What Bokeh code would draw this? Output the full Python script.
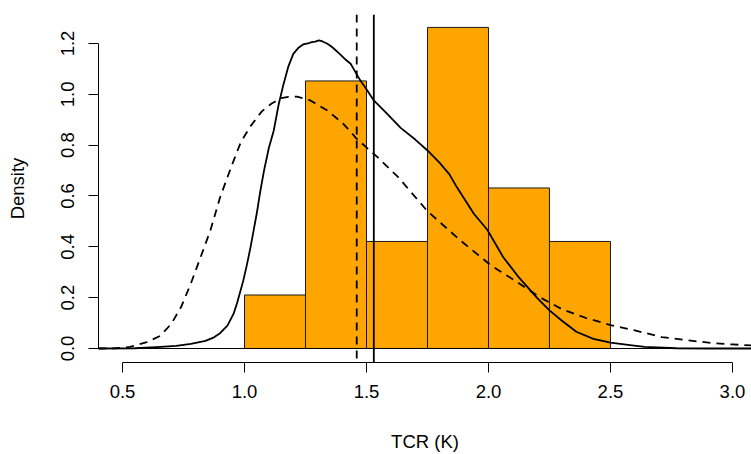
from bokeh.plotting import figure
from bokeh.models import Range1d, Span, FixedTicker, PrintfTickFormatter
from bokeh.embed import file_html
from bokeh.resources import INLINE

# Histogram of TCR estimates (density scale, bin width 0.25 K)
bin_left = [1.00, 1.25, 1.50, 1.75, 2.00, 2.25]
bin_right = [1.25, 1.50, 1.75, 2.00, 2.25, 2.50]
bin_density = [0.2105, 1.0526, 0.4211, 1.2632, 0.6316, 0.4211]

# Kernel density estimate of the sample (solid curve)
kde_x = [0.40, 0.55, 0.64, 0.72, 0.78, 0.84, 0.875, 0.90, 0.93, 0.955,
         0.97, 0.995, 1.01, 1.025, 1.05, 1.065, 1.08, 1.10, 1.12, 1.14,
         1.16, 1.18, 1.20, 1.22, 1.24, 1.26, 1.275, 1.29, 1.305, 1.32,
         1.34, 1.36, 1.39, 1.41, 1.435, 1.45, 1.475, 1.50, 1.53, 1.585,
         1.64, 1.70, 1.75, 1.80, 1.84, 1.87, 1.94, 1.995, 2.06, 2.12,
         2.20, 2.25, 2.30, 2.36, 2.43, 2.50, 2.58, 2.64, 2.77, 2.90, 3.08]
kde_y = [0.0, 0.001, 0.005, 0.010, 0.018, 0.030, 0.044, 0.060, 0.090, 0.136,
         0.180, 0.267, 0.330, 0.400, 0.530, 0.620, 0.700, 0.790, 0.858, 0.960,
         1.040, 1.110, 1.159, 1.182, 1.196, 1.200, 1.205, 1.207, 1.212, 1.208,
         1.199, 1.185, 1.159, 1.140, 1.120, 1.095, 1.054, 1.020, 0.976, 0.923,
         0.868, 0.822, 0.779, 0.730, 0.685, 0.635, 0.530, 0.467, 0.360, 0.285,
         0.198, 0.150, 0.110, 0.066, 0.038, 0.023, 0.013, 0.006, 0.001, 0.0, 0.0]

# Fitted reference distribution (dashed curve)
fit_x = [0.40, 0.47, 0.53, 0.60, 0.655, 0.70, 0.74, 0.78, 0.82, 0.86,
         0.90, 0.945, 0.985, 1.025, 1.07, 1.11, 1.15, 1.18, 1.215, 1.27,
         1.34, 1.405, 1.46, 1.545, 1.63, 1.75, 1.885, 2.01, 2.12, 2.21,
         2.30, 2.40, 2.50, 2.60, 2.71, 2.82, 2.91, 3.00, 3.08]
fit_y = [0.0, 0.001, 0.006, 0.025, 0.050, 0.097, 0.163, 0.255, 0.359, 0.464,
         0.595, 0.713, 0.812, 0.875, 0.932, 0.963, 0.985, 0.990, 0.991, 0.976,
         0.936, 0.884, 0.825, 0.753, 0.674, 0.540, 0.425, 0.327, 0.260, 0.202,
         0.155, 0.120, 0.092, 0.071, 0.045, 0.032, 0.022, 0.016, 0.012]

# Central estimates marked as vertical lines
fit_median = 1.46
sample_median = 1.53

x_ticks = [0.5, 1.0, 1.5, 2.0, 2.5, 3.0]
y_ticks = [0.0, 0.2, 0.4, 0.6, 0.8, 1.0, 1.2]

FONT = "Liberation Sans"
FS = "18.5px"

p = figure(width=751, height=454, output_backend="svg", toolbar_location=None,
           x_range=Range1d(0.4016, 3.078), y_range=Range1d(-0.0551, 1.314),
           min_border_left=98, min_border_right=0, min_border_top=14,
           min_border_bottom=92, background_fill_color="white",
           border_fill_color="white", outline_line_color=None)
p.grid.visible = False

p.quad(left=bin_left, right=bin_right, bottom=0, top=bin_density,
       fill_color="#FFA500", line_color="#1a1a1a", line_width=1)

p.add_layout(Span(location=0, dimension="width", line_color="black", line_width=1))

p.line(kde_x, kde_y, line_color="black", line_width=1.8, line_join="round")
p.line(fit_x, fit_y, line_color="black", line_width=1.8, line_dash="8 6",
       line_join="round")

p.add_layout(Span(location=fit_median, dimension="height", line_color="black",
                  line_width=1.8, line_dash="8 6"))
p.add_layout(Span(location=sample_median, dimension="height", line_color="black",
                  line_width=1.8))

for ax in (p.xaxis[0], p.yaxis[0]):
    ax.axis_line_color = "black"
    ax.axis_line_width = 1
    ax.major_tick_line_color = "black"
    ax.major_tick_in = 0
    ax.major_tick_out = 10
    ax.minor_tick_line_color = None
    ax.major_label_text_font = FONT
    ax.major_label_text_font_size = FS
    ax.major_label_text_color = "black"
    ax.axis_label_text_font = FONT
    ax.axis_label_text_font_size = FS
    ax.axis_label_text_font_style = "normal"
    ax.axis_label_text_color = "black"
    ax.formatter = PrintfTickFormatter(format="%.1f")

p.xaxis[0].ticker = FixedTicker(ticks=x_ticks)
p.xaxis[0].bounds = (x_ticks[0], x_ticks[-1])
p.xaxis[0].major_label_standoff = 12
p.xaxis[0].axis_label = "TCR (K)"
p.xaxis[0].axis_label_standoff = 30

p.yaxis[0].ticker = FixedTicker(ticks=y_ticks)
p.yaxis[0].bounds = (y_ticks[0], y_ticks[-1])
p.yaxis[0].major_label_orientation = "parallel"
p.yaxis[0].major_label_standoff = 14
p.yaxis[0].axis_label = "Density"
p.yaxis[0].axis_label_standoff = 31

open("out.html", "w").write(file_html(p, INLINE))
